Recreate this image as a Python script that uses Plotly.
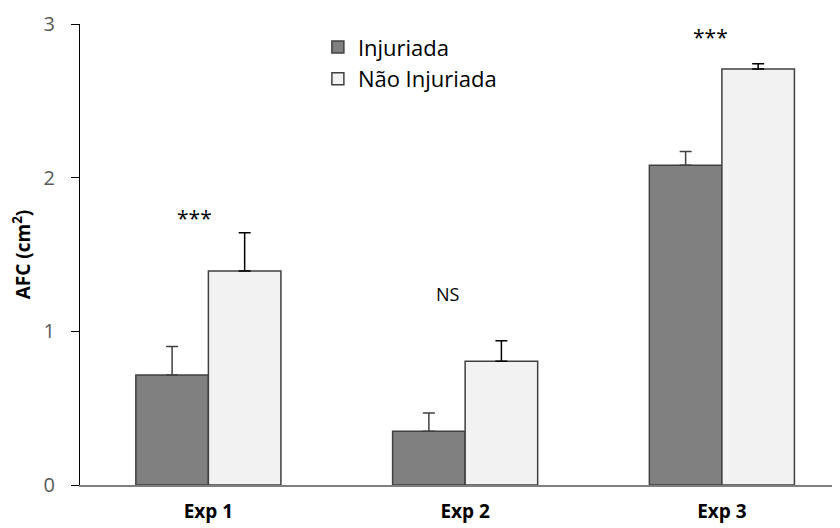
import plotly.graph_objects as go

categories = ["Exp 1", "Exp 2", "Exp 3"]
injuriada = [0.716, 0.349, 2.08]
injuriada_err = [0.185, 0.12, 0.09]
nao_injuriada = [1.392, 0.805, 2.707]
nao_injuriada_err = [0.25, 0.134, 0.034]
sig_labels = ["***", "NS", "***"]
sig_y = [1.74, 1.24, 2.915]
sig_xshift = [-14, -17, -11]
sig_size = [21, 18, 21]

font_family = "Open Sans"

fig = go.Figure()
fig.add_trace(go.Bar(
    x=categories, y=injuriada, name="Injuriada",
    marker=dict(color="#808080", line=dict(color="#404040", width=1.5)),
    error_y=dict(type="data", array=injuriada_err, arrayminus=[0] * 3,
                 symmetric=False, color="#404040", thickness=1.5, width=6),
))
fig.add_trace(go.Bar(
    x=categories, y=nao_injuriada, name="Não Injuriada",
    marker=dict(color="#f2f2f2", line=dict(color="#404040", width=1.5)),
    error_y=dict(type="data", array=nao_injuriada_err, arrayminus=[0] * 3,
                 symmetric=False, color="#000000", thickness=1.5, width=6),
))

for c, lab, yv, xs, fs in zip(categories, sig_labels, sig_y, sig_xshift, sig_size):
    fig.add_annotation(x=c, y=yv, xref="x", yref="y", text=lab, showarrow=False,
                       xshift=xs, font=dict(family=font_family, size=fs, color="#000000"))

fig.update_layout(
    width=832, height=520,
    margin=dict(l=72, r=0, t=16, b=43),
    paper_bgcolor="white", plot_bgcolor="white",
    barmode="group", bargap=0.435, bargroupgap=0,
    font=dict(family=font_family),
    showlegend=True,
    legend=dict(x=0.313, y=0.995, xanchor="left", yanchor="top",
                font=dict(family=font_family, size=22, color="#000000"),
                bgcolor="rgba(0,0,0,0)", tracegroupgap=0),
    xaxis=dict(range=[-0.5, 2.46], showline=True, linecolor="#7f7f7f", linewidth=2,
               ticks="", showgrid=False, zeroline=False, ticklabelstandoff=8,
               tickfont=dict(family=font_family, size=19, color="#000000", weight="bold")),
    yaxis=dict(range=[0, 3], tickvals=[0, 1, 2, 3], showline=True, linecolor="#000000",
               linewidth=1, ticks="outside", ticklen=8, tickcolor="#000000",
               showgrid=False, zeroline=False, ticklabelstandoff=12,
               tickfont=dict(family=font_family, size=20, color="#595959"),
               title=dict(text="AFC (cm<sup>2</sup>)", standoff=10,
                          font=dict(family=font_family, size=19, color="#000000", weight="bold"))),
)

fig.write_html("out.html")
